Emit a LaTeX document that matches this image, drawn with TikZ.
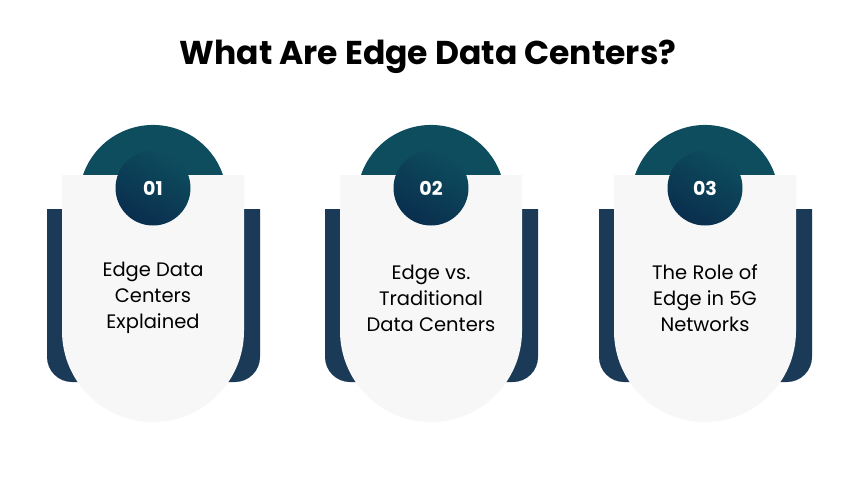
\documentclass[tikz,border=0pt]{standalone}
\usepackage{fontspec}
\setmainfont{Poppins}
\definecolor{teal}{HTML}{0D4D5E}
\definecolor{navy}{HTML}{1B3A57}
\definecolor{deep}{HTML}{0A2E4E}
\definecolor{card}{HTML}{F7F7F7}
\tikzset{
  dome/.style={fill=teal},
  back/.style={fill=navy},
  cardbody/.style={fill=card},
  num/.style={circle,minimum size=75pt,inner sep=0pt,shading=axis,top color=teal,bottom color=deep,shading angle=-30,text=white,font=\fontsize{19}{19}\selectfont\bfseries},
  body/.style={align=center,font=\fontsize{19.5}{26}\selectfont,text=black}
}
\begin{document}
\begin{tikzpicture}[x=1pt,y=1pt]
\useasboundingbox (0,0) rectangle (851,-499);
\fill[white] (0,0) rectangle (851,-499);
\node[font=\fontsize{33}{34}\selectfont\bfseries] (title) at (428,-57) {What Are Edge Data Centers?};
\foreach \cx/\n/\t [count=\i] in {153/01/{Edge Data\\Centers\\Explained},431/02/{Edge vs.\\Traditional\\Data Centers},705/03/{The Role of\\Edge in 5G\\Networks}}{
  \fill[dome] (\cx-70,-175) arc[start angle=161.1,end angle=18.9,radius=74] -- cycle;
  \fill[back] (\cx-106,-209) -- (\cx-106,-357) arc[start angle=180,end angle=270,radius=25] -- (\cx+82,-382) arc[start angle=270,end angle=360,radius=25] -- (\cx+107,-209) -- cycle;
  \fill[cardbody] (\cx-91,-175) -- (\cx-91,-331) arc[start angle=180,end angle=360,radius=91] -- (\cx+91,-175) -- cycle;
  \node[num] (n\i) at (\cx,-188) {\n};
  \node[body] (b\i) at (\cx,-298) {\t};
}
\end{tikzpicture}
\end{document}
